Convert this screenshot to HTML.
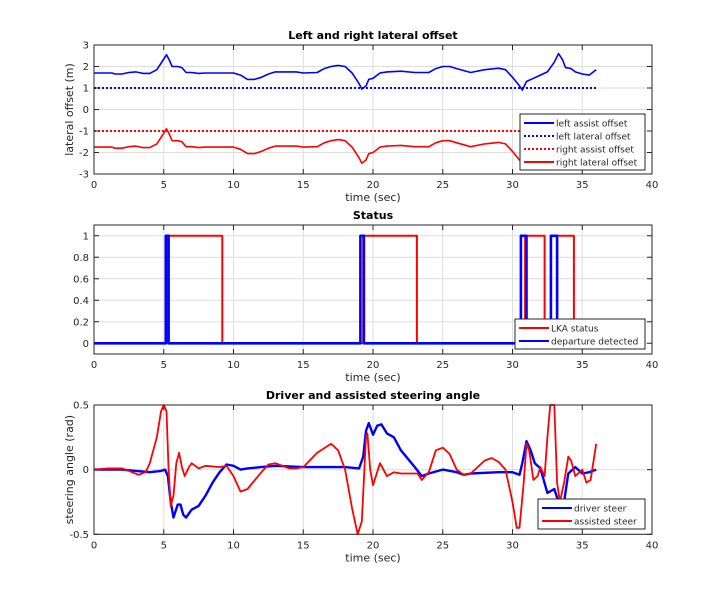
<!DOCTYPE html>
<html><head><meta charset="utf-8"><style>
html,body{margin:0;padding:0;background:#fff;}
svg text{font-family:"DejaVu Sans","Liberation Sans",sans-serif;}
</style></head><body>
<svg id="fig" width="720" height="600" xmlns="http://www.w3.org/2000/svg"></svg>
<script>
// ---- data ----
const leftAssistT=[0,1.3,1.5,2,2.5,3,3.5,4,4.5,5,5.2,5.4,5.6,6,6.3,6.6,7,7.5,8,10,10.5,11,11.5,12,12.5,13,14.5,15,16,16.5,17,17.5,18,18.5,19,19.2,19.5,19.7,20,20.5,21,22,23,24,24.5,25,25.5,26,27,28,29,29.5,30,30.5,30.7,31,31.5,32,32.5,33,33.3,33.6,33.8,34.2,34.5,35,35.5,36];
const leftAssistV=[1.7,1.7,1.65,1.65,1.72,1.75,1.68,1.68,1.85,2.35,2.55,2.3,2.0,2.0,1.95,1.72,1.72,1.68,1.7,1.7,1.6,1.4,1.4,1.5,1.65,1.75,1.75,1.7,1.72,1.9,2.0,2.05,2.0,1.7,1.2,0.95,1.1,1.4,1.45,1.7,1.75,1.78,1.72,1.72,1.9,2.0,2.0,1.9,1.72,1.85,1.92,1.85,1.5,1.1,0.9,1.3,1.45,1.6,1.75,2.2,2.6,2.3,1.95,1.9,1.75,1.65,1.6,1.85];
const rightLatV=[-1.75,-1.75,-1.8,-1.8,-1.73,-1.7,-1.77,-1.77,-1.6,-1.1,-0.9,-1.15,-1.45,-1.45,-1.5,-1.73,-1.73,-1.77,-1.75,-1.75,-1.85,-2.05,-2.05,-1.95,-1.8,-1.7,-1.7,-1.75,-1.73,-1.55,-1.45,-1.4,-1.45,-1.75,-2.25,-2.5,-2.35,-2.05,-2.0,-1.75,-1.7,-1.67,-1.73,-1.73,-1.55,-1.45,-1.45,-1.55,-1.73,-1.6,-1.53,-1.6,-1.95,-2.35,-2.55,-2.15,-2.0,-1.85,-1.7,-1.25,-0.85,-1.15,-1.5,-1.55,-1.7,-1.8,-1.85,-1.6];
const leftLat=[0,36]; const leftLatV=1.0; const rightAssistV=-1.0;
const lkaT=[0,5.3,5.3,9.2,9.2,19.3,19.3,23.15,23.15,30.9,30.9,32.3,32.3,33.2,33.2,34.4,34.4,36];
const lkaV=[0,0,1,1,0,0,1,1,0,0,1,1,0,0,1,1,0,0];
const depT=[0,5.15,5.15,5.35,5.35,19.1,19.1,19.35,19.35,30.6,30.6,31.0,31.0,32.75,32.75,33.2,33.2,36];
const depV=[0,0,1,1,0,0,1,1,0,0,1,1,0,0,1,1,0,0];
const drvT=[0,2,3,4,4.8,5.1,5.3,5.5,5.7,6,6.2,6.4,6.6,7,7.5,8,8.5,9,9.5,10,10.5,11,12,13,15,18,19,19.3,19.5,19.7,20,20.3,20.6,21,21.5,22,23,23.5,24,25,26,26.5,27,29,30,30.5,30.7,31,31.3,31.6,32,32.5,33,33.3,33.6,34,34.5,35,35.5,36];
const drvV=[0,0,-0.01,-0.02,-0.01,0.0,-0.05,-0.25,-0.37,-0.27,-0.27,-0.35,-0.37,-0.31,-0.28,-0.2,-0.1,-0.02,0.04,0.03,0.0,0.01,0.02,0.03,0.02,0.02,0.01,0.1,0.3,0.36,0.27,0.34,0.35,0.28,0.25,0.15,0.02,-0.05,-0.03,0.0,-0.02,-0.04,-0.03,-0.02,-0.02,-0.04,0.05,0.22,0.15,0.05,0.01,-0.18,-0.15,-0.25,-0.32,-0.03,0.02,-0.03,-0.02,0.0];
const asT=[0,1,2,2.5,3.2,3.7,4,4.5,4.8,5,5.2,5.35,5.5,5.7,5.9,6.1,6.3,6.5,6.8,7,7.5,8,9,9.5,10,10.5,11,12,12.5,13,14,14.5,15,16,17,17.5,18,18.5,18.9,19.2,19.5,19.6,19.8,20,20.5,21,21.5,22,23.2,23.5,24,24.5,25,25.5,26,26.5,27,28,28.5,29,29.5,30,30.3,30.5,30.8,31,31.2,31.5,31.8,32,32.3,32.5,32.7,33,33.2,33.4,33.7,34,34.2,34.5,35,35.3,35.6,36];
const asV=[0,0.01,0.01,-0.01,-0.04,-0.02,0.05,0.25,0.45,0.5,0.45,0.0,-0.28,-0.2,0.05,0.13,0.02,-0.05,0.02,0.05,0.01,0.03,0.02,0.03,-0.05,-0.17,-0.15,-0.02,0.04,0.05,0.01,0.01,0.02,0.13,0.2,0.15,0.0,-0.3,-0.5,-0.4,0.25,0.28,0.0,-0.12,0.05,-0.05,-0.02,-0.03,-0.03,-0.08,-0.02,0.15,0.17,0.12,0.0,-0.04,-0.03,0.07,0.09,0.06,0.0,-0.25,-0.45,-0.45,-0.1,0.2,0.15,-0.08,-0.05,0.02,-0.05,0.25,0.5,0.5,-0.1,-0.25,-0.1,0.1,0.07,-0.05,0.0,-0.1,-0.08,0.2];
const xTicks=[0,5,10,15,20,25,30,35,40];
const y1Ticks=[-3,-2,-1,0,1,2,3];
const y2Ticks=[0,0.2,0.4,0.6,0.8,1];
const y3Ticks=[-0.5,0,0.5];

// ---- drawing ----
const NS="http://www.w3.org/2000/svg";
const svg=document.getElementById('fig');
function el(tag,attrs,parent){const e=document.createElementNS(NS,tag);for(const k in attrs)e.setAttribute(k,attrs[k]);(parent||svg).appendChild(e);return e;}
const X0=94,X1=652;
function axes(name,top,bot,ymin,ymax,yt,title,ylabel){
  const g=el('g',{});
  
  
  const sx=v=>X0+(v-0)/40*(X1-X0);
  const sy=v=>bot-(v-ymin)/(ymax-ymin)*(bot-top);
  el('rect',{x:X0,y:top,width:X1-X0,height:bot-top,fill:'#fff'},g);
  xTicks.forEach(t=>{el('line',{x1:sx(t),x2:sx(t),y1:top,y2:bot,stroke:'#dedede','stroke-width':1},g);});
  yt.forEach(t=>{el('line',{x1:X0,x2:X1,y1:sy(t),y2:sy(t),stroke:'#dedede','stroke-width':1},g);});
  xTicks.forEach(t=>{
    el('line',{x1:sx(t),x2:sx(t),y1:bot,y2:bot-5,stroke:'#262626'},g);
    el('line',{x1:sx(t),x2:sx(t),y1:top,y2:top+5,stroke:'#262626'},g);
    const tx=el('text',{x:sx(t),y:bot+14,'font-size':10,'text-anchor':'middle',fill:'#262626'},g);tx.textContent=t;
    
    
  });
  yt.forEach(t=>{
    el('line',{x1:X0,x2:X0+5,y1:sy(t),y2:sy(t),stroke:'#262626'},g);
    el('line',{x1:X1,x2:X1-5,y1:sy(t),y2:sy(t),stroke:'#262626'},g);
    const tx=el('text',{x:X0-5,y:sy(t)+3.5,'font-size':10,'text-anchor':'end',fill:'#262626'},g);tx.textContent=t;
    
    
  });
  const ti=el('text',{x:(X0+X1)/2,y:top-6,'font-size':11,'font-weight':'bold','text-anchor':'middle',fill:'#000'},g);ti.textContent=title;
  
  
  const xl=el('text',{x:(X0+X1)/2,y:bot+27,'font-size':11,'text-anchor':'middle',fill:'#262626'},g);xl.textContent='time (sec)';
  
  
  if(ylabel){const yl=el('text',{x:0,y:0,'font-size':11,'text-anchor':'middle',fill:'#262626',transform:`translate(73,${(top+bot)/2}) rotate(-90)`},g);yl.textContent=ylabel;
    
    }
  return {g,sx,sy,top,bot};
}
function line(ax,T,V,color,w,dash,name){
  const d=T.map((t,i)=>(i?'L':'M')+ax.sx(t).toFixed(1)+','+ax.sy(V[i]).toFixed(1)).join('');
  const p=el('path',{d,fill:'none',stroke:color,'stroke-width':w,'stroke-dasharray':dash||'none','stroke-linejoin':'round'},ax.g);
  
  
}
function frame(ax){el('rect',{x:X0,y:ax.top,width:X1-X0,height:ax.bot-ax.top,fill:'none',stroke:'#262626','stroke-width':1},ax.g);}
function legend(ax,x,y,w,items){
  const h=items.length*13+4;
  const g=el('g',{},ax.g);
  
  
  el('rect',{x,y,width:w,height:h,fill:'#fff',stroke:'#262626','stroke-width':1},g);
  items.forEach((it,i)=>{
    const cy=y+9+i*13;
    el('line',{x1:x+4,x2:x+34,y1:cy,y2:cy,stroke:it[1],'stroke-width':2,'stroke-dasharray':it[2]||'none'},g);
    const t=el('text',{x:x+36,y:cy+3.5,'font-size':9,fill:'#262626'},g);t.textContent=it[0];
    
    
  });
}
// plot 1
const a1=axes('lateral-offset-plot',45,174,-3,3,y1Ticks,'Left and right lateral offset','lateral offset (m)');
line(a1,leftLat,[leftLatV,leftLatV],'#0000ff',2,'2,2','left-lateral-offset-line');
line(a1,leftLat,[rightAssistV,rightAssistV],'#ff0000',2,'2,2','right-assist-offset-line');
line(a1,leftAssistT,leftAssistV,'#0000ff',1.6,null,'left-assist-offset-line');
line(a1,leftAssistT,rightLatV,'#ff0000',1.6,null,'right-lateral-offset-line');
legend(a1,520,114,125,[['left assist offset','#0000ff'],['left lateral offset','#0000ff','2,2'],['right assist offset','#ff0000','2,2'],['right lateral offset','#ff0000']]);
frame(a1);
// plot 2
const a2=axes('status-plot',225,354,-0.1,1.1,y2Ticks,'Status',null);
line(a2,lkaT,lkaV,'#ff0000',2,null,'lka-status-line');
line(a2,depT,depV,'#0000ff',2.6,null,'departure-detected-line');
legend(a2,515,319,130,[['LKA status','#ff0000'],['departure detected','#0000ff']]);
frame(a2);
// plot 3
const a3=axes('steering-angle-plot',405,534.3,-0.5,0.5,y3Ticks,'Driver and assisted steering angle','steering angle (rad)');
line(a3,drvT,drvV,'#0000ff',2.4,null,'driver-steer-line');
line(a3,asT,asV,'#ff0000',1.8,null,'assisted-steer-line');
legend(a3,538,499,107,[['driver steer','#0000ff'],['assisted steer','#ff0000']]);
frame(a3);
</script>
</body></html>
